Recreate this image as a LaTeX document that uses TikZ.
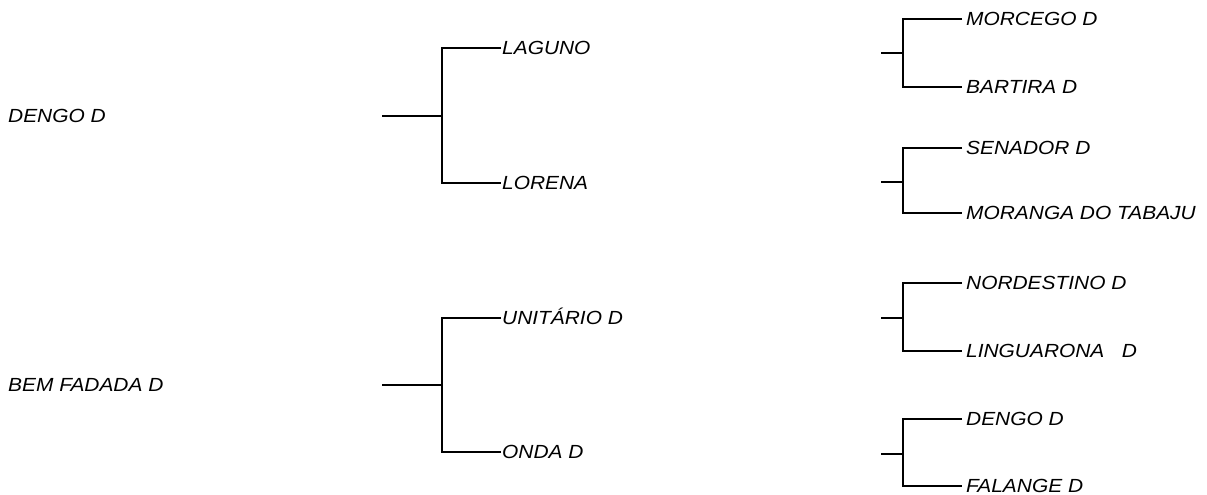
\documentclass[tikz,border=0pt]{standalone}
\usepackage{fontspec}
\setmainfont{Liberation Sans}
\newfontfamily\labfont[FakeStretch=1.1]{Liberation Sans}
\begin{document}
\begin{tikzpicture}[x=1pt,y=-1pt,
  lab/.style={anchor=west,inner ysep=0pt,inner xsep=1pt,text height=13.6pt,text depth=0pt,
    font=\labfont\fontsize{19}{22}\selectfont\itshape},
  rlab/.style={lab,inner xsep=4pt},
  br/.style={line width=2.2pt,line cap=butt}]
\useasboundingbox (0,0) rectangle (1207,495);
% root labels
\node[lab] (dengo) at (7,116) {DENGO D};
\node[lab] (bem) at (7,385) {BEM FADADA D};
% middle brackets
\coordinate (s1) at (382,116); \coordinate (j1) at (442,116);
\coordinate (s2) at (382,385); \coordinate (j2) at (442,385);
\node[lab] (laguno) at (501,48) {LAGUNO};
\node[lab] (lorena) at (501,183) {LORENA};
\node[lab] (unitario) at (501,318) {UNITÁRIO D};
\node[lab] (onda) at (501,452) {ONDA D};
\draw[br] (s1) -- (j1);
\draw[br] (laguno.west) -| (j1) |- (lorena.west);
\draw[br] (s2) -- (j2);
\draw[br] (unitario.west) -| (j2) |- (onda.west);
% right brackets
\coordinate (s3) at (881,53); \coordinate (j3) at (903,53);
\coordinate (s4) at (881,182); \coordinate (j4) at (903,182);
\coordinate (s5) at (881,318); \coordinate (j5) at (903,318);
\coordinate (s6) at (881,454); \coordinate (j6) at (903,454);
\node[rlab] (morcego) at (962,19) {MORCEGO D};
\node[rlab] (bartira) at (962,87) {BARTIRA D};
\node[rlab] (senador) at (962,148) {SENADOR D};
\node[rlab] (moranga) at (962,213) {MORANGA DO TABAJU};
\node[rlab] (nordestino) at (962,283) {NORDESTINO D};
\node[rlab] (linguarona) at (962,351) {LINGUARONA\ \ \ D};
\node[rlab] (dengo2) at (962,419) {DENGO D};
\node[rlab] (falange) at (962,486) {FALANGE D};
\draw[br] (s3) -- (j3);
\draw[br] (morcego.west) -| (j3) |- (bartira.west);
\draw[br] (s4) -- (j4);
\draw[br] (senador.west) -| (j4) |- (moranga.west);
\draw[br] (s5) -- (j5);
\draw[br] (nordestino.west) -| (j5) |- (linguarona.west);
\draw[br] (s6) -- (j6);
\draw[br] (dengo2.west) -| (j6) |- (falange.west);
\end{tikzpicture}
\end{document}
